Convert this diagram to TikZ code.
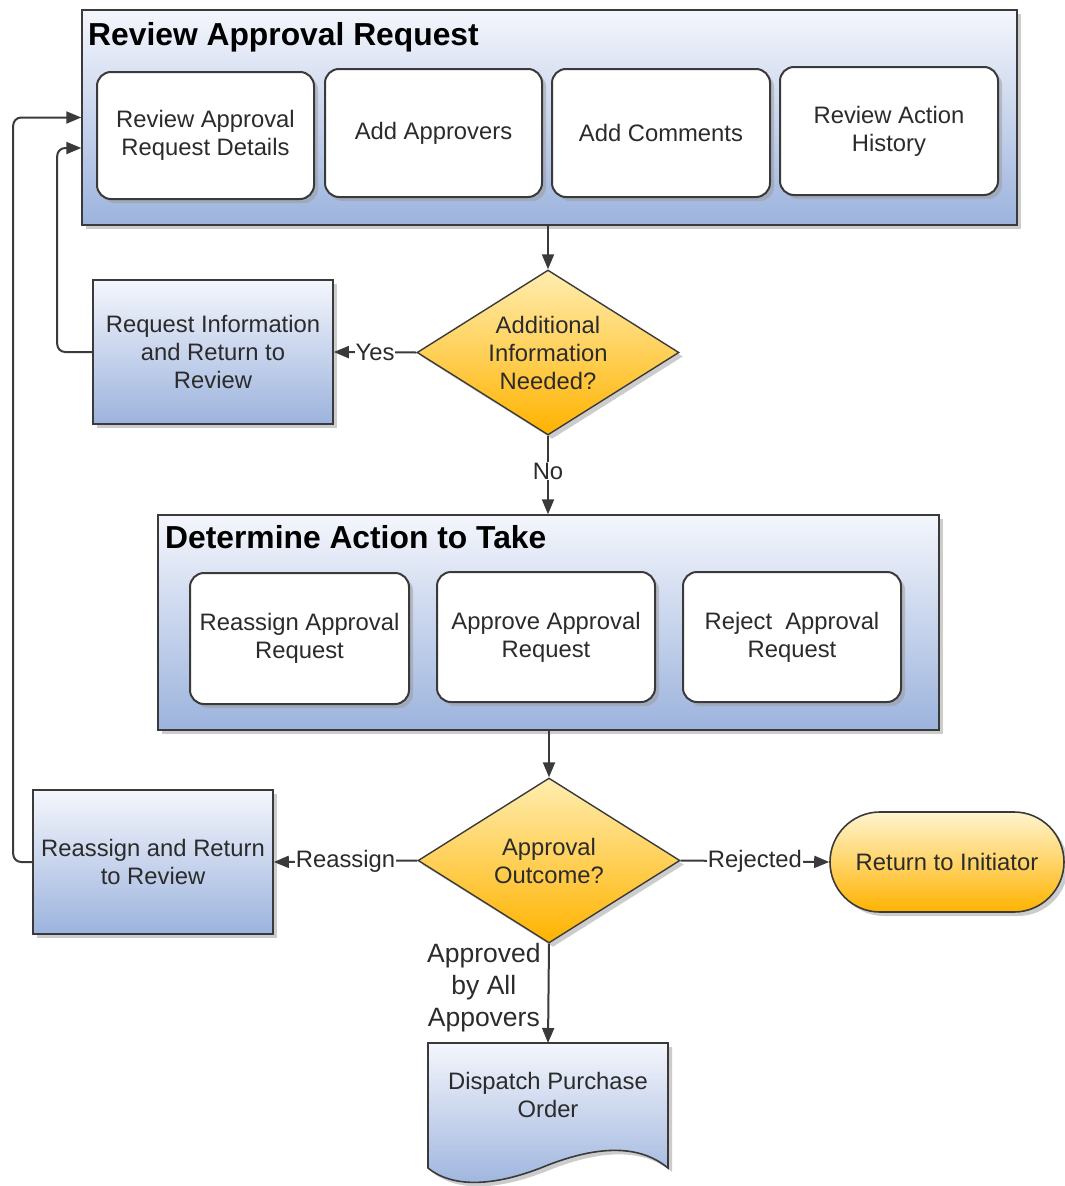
\documentclass[tikz,border=0pt]{standalone}
\usepackage{fontspec}
\setmainfont{Liberation Sans}
\usetikzlibrary{shapes.geometric,shadows,arrows.meta}
\definecolor{txt}{HTML}{2B2B2B}
\definecolor{edge}{HTML}{3A3A3A}
\definecolor{bluetop}{HTML}{F4F6FC}
\definecolor{bluebot}{HTML}{9CB3DD}
\definecolor{goldtop}{HTML}{FFEDB0}
\definecolor{goldbot}{HTML}{FFB300}
\definecolor{shad}{HTML}{9A9A9A}
\begin{document}
\begin{tikzpicture}[x=1pt,y=-1pt,
  font=\fontsize{23.8}{28}\selectfont, text=txt,
  shd/.style={drop shadow={shadow xshift=4pt,shadow yshift=-4pt,fill=shad,opacity=0.5}},
  container/.style={draw=edge, line width=1.4pt, top color=bluetop, bottom color=bluebot, shd, inner sep=0pt},
  ctitle/.style={font=\fontsize{31.8}{36}\selectfont\bfseries, text=black, anchor=base west, inner sep=0pt},
  task/.style={draw=edge, line width=2pt, fill=white, rounded corners=14pt, align=center, inner sep=0pt, shd},
  proc/.style={draw=edge, line width=1.6pt, top color=bluetop, bottom color=bluebot, align=center, inner sep=0pt, shd},
  dec/.style={diamond, draw=edge, line width=1.4pt, top color=goldtop, bottom color=goldbot, align=center, inner sep=0pt, aspect=1.59, minimum width=262pt, minimum height=165pt, shd},
  term/.style={draw=edge, line width=1.6pt, top color=goldtop!60!white, bottom color=goldbot, rounded corners=50pt, minimum width=234pt, minimum height=100pt, inner sep=0pt, shd},
  arr/.style={draw=edge, line width=2pt, -{Triangle[length=15pt,width=12pt]}},
  lab/.style={fill=white, inner sep=1pt, text=txt},
]
\useasboundingbox (0,0) rectangle (1065,1186);

% Review Approval Request container
\node[container, minimum width=935pt, minimum height=215pt] (c1) at (549.5,117.5) {};
\node[ctitle] (t1) at (88,45) {Review Approval Request};
\node[task, minimum width=217pt, minimum height=127pt] (b1) at (205.5,135.5) {Review Approval\\Request Details};
\node[task, minimum width=217pt, minimum height=128pt] (b2) at (433.5,133) {Add Approvers};
\node[task, minimum width=218pt, minimum height=128pt] (b3) at (661,133) {Add Comments};
\node[task, minimum width=218pt, minimum height=128pt] (b4) at (889,131) {Review Action\\History};

% decision 1
\node[dec] (d1) at (548,352.5) {Additional\\Information\\Needed?};
\node[proc, minimum width=240pt, minimum height=144pt] (req) at (213,352) {Request Information\\and Return to\\Review};

% Determine Action container
\node[container, minimum width=781pt, minimum height=215pt] (c2) at (548.5,622.5) {};
\node[ctitle] (t2) at (165,548) {Determine Action to Take};
\node[task, minimum width=219pt, minimum height=131pt] (e1) at (299.5,638.5) {Reassign Approval\\Request};
\node[task, minimum width=218pt, minimum height=130pt] (e2) at (546,637) {Approve Approval\\Request};
\node[task, minimum width=218pt, minimum height=130pt] (e3) at (792,637) {Reject\ \ Approval\\Request};

% decision 2
\node[dec] (d2) at (549,860.5) {Approval\\Outcome?};
\node[proc, minimum width=240pt, minimum height=144pt] (rr) at (153,862) {Reassign and Return\\to Review};
\node[term] (ti) at (947,862) {Return to Initiator};

% document
\draw[draw=edge, line width=1.6pt, top color=bluetop, bottom color=bluebot, shd]
  (428,1043) -- (668,1043) -- (668,1168)
  .. controls (640,1145) and (600,1145) .. (548,1165)
  .. controls (500,1185) and (455,1190) .. (428,1168) -- cycle;
\node[align=center, inner sep=0pt] (doc) at (548,1095) {Dispatch Purchase\\Order};
\coordinate (doctop) at (548,1043);

% connectors
\draw[arr] (d1.north |- c1.south) -- (d1.north);
\draw[arr] (d1.west) -- node[lab]{Yes} (req.east);
\draw[arr, rounded corners=8pt] (req.west) -- ++(-35,0) |- ([yshift=-30.5pt]c1.west);
\draw[arr] (d1.south) -- node[lab, pos=0.45]{No} (d1.south |- c2.north);
\draw[arr] (d2.north |- c2.south) -- (d2.north);
\draw[arr] (d2.west) -- node[lab]{Reassign} (rr.east);
\draw[arr, rounded corners=8pt] (rr.west) -- ++(-19,0) |- (c1.west);
\draw[arr] (d2.east) -- node[lab]{Rejected} (ti.west);
\draw[arr] (d2.south) -- node[pos=0.44, anchor=east, align=center, inner sep=0pt, xshift=-7pt, font=\fontsize{26.5}{32}\selectfont]{Approved\\by All\\Appovers} (doctop);
\end{tikzpicture}
\end{document}
